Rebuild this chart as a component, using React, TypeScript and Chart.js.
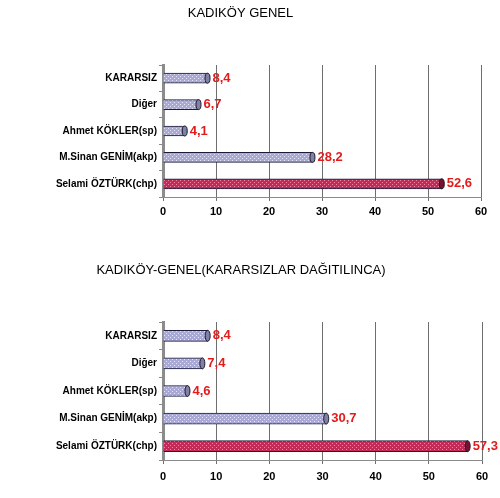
import { useEffect, useRef } from "react";
import { Chart, registerables } from "chart.js";

Chart.register(...registerables);

// Data
const categories = ["KARARSIZ", "Diğer", "Ahmet KÖKLER(sp)", "M.Sinan GENİM(akp)", "Selami ÖZTÜRK(chp)"];
const generalValues = [8.4, 6.7, 4.1, 28.2, 52.6];
const redistributedValues = [8.4, 7.4, 4.6, 30.7, 57.3];
const xTicks = [0, 10, 20, 30, 40, 50, 60];

const FONT = "'Liberation Sans', Arial, sans-serif";

function makePattern(base: string, dot: string) {
  const c = document.createElement("canvas");
  c.width = 4;
  c.height = 4;
  const g = c.getContext("2d")!;
  g.fillStyle = base;
  g.fillRect(0, 0, 4, 4);
  g.fillStyle = dot;
  g.fillRect(0, 0, 1, 1);
  g.fillRect(2, 2, 1, 1);
  return g.createPattern(c, "repeat")!;
}

// red value labels plus a small "cylinder cap" at each bar end
const valueLabels = {
  id: "valueLabels",
  afterDatasetsDraw(chart: any) {
    const ctx = chart.ctx;
    const meta = chart.getDatasetMeta(0);
    const data = chart.data.datasets[0].data as number[];
    const n = data.length;
    ctx.save();
    meta.data.forEach((bar: any, i: number) => {
      const h = bar.height;
      ctx.beginPath();
      ctx.ellipse(bar.x, bar.y, 2.5, h / 2, 0, 0, Math.PI * 2);
      ctx.fillStyle = i === n - 1 ? "#7a1030" : "#8080a8";
      ctx.fill();
      ctx.strokeStyle = "#1a1a2a";
      ctx.lineWidth = 1;
      ctx.stroke();
    });
    ctx.font = `bold 13px ${FONT}`;
    ctx.fillStyle = "#e31b1b";
    ctx.textBaseline = "middle";
    meta.data.forEach((bar: any, i: number) => {
      ctx.fillText(data[i].toFixed(1).replace(".", ","), bar.x + 5, bar.y);
    });
    ctx.restore();
  },
};

interface BarPanelProps {
  title: string;
  values: number[];
  height: number;
  titleTop: number;
  plotTop: number;
  plotBottom: number;
  rightPad: number;
  barThickness: number;
  tickPad: number;
}

function BarPanel({ title, values, height, titleTop, plotTop, plotBottom, rightPad, barThickness, tickPad }: BarPanelProps) {
  const canvasRef = useRef<HTMLCanvasElement>(null);

  useEffect(() => {
    if (!canvasRef.current) return;
    const blue = makePattern("#a9a9d4", "#e4e4f6");
    const red = makePattern("#c22a58", "#ec8aa6");
    const colors = values.map((_, i) => (i === values.length - 1 ? red : blue));

    const chart = new Chart(canvasRef.current, {
      type: "bar",
      data: {
        labels: categories,
        datasets: [
          {
            data: values,
            backgroundColor: colors as any,
            borderColor: "#1a1a3a",
            borderWidth: 1,
            barThickness,
          },
        ],
      },
      options: {
        indexAxis: "y",
        responsive: true,
        maintainAspectRatio: false,
        animation: false,
        layout: { padding: { left: 0, right: rightPad, top: 0, bottom: 0 } },
        scales: {
          x: {
            min: 0,
            max: 60,
            afterBuildTicks: (scale: any) => {
              scale.ticks = xTicks.map((v) => ({ value: v }));
            },
            afterFit: (scale: any) => {
              scale.height = height - plotBottom;
            },
            grid: { color: "#6e6e6e", tickLength: 4 },
            border: { color: "#8a8a8a" },
            ticks: {
              color: "#000",
              padding: tickPad,
              font: { family: FONT, size: 11, weight: "bold" },
            },
          },
          y: {
            afterFit: (scale: any) => {
              scale.width = 163;
            },
            grid: { display: true, drawOnChartArea: false, offset: true, tickLength: 4, color: "#8a8a8a" },
            border: { color: "#8c8c8c", width: 3 },
            ticks: {
              color: "#000",
              padding: 2,
              font: { family: FONT, size: 10, weight: "bold" },
            },
          },
        },
        plugins: {
          legend: { display: false },
          tooltip: { enabled: false },
          title: {
            display: true,
            text: title,
            color: "#000",
            font: { family: FONT, size: 13, weight: "normal", lineHeight: 1.2 },
            padding: { top: titleTop, bottom: plotTop - titleTop - 15.6 },
          },
        },
      },
      plugins: [valueLabels],
    });

    return () => {
      chart.destroy();
    };
  }, []);

  return (
    <div style={{ position: "relative", width: 500, height }}>
      <canvas ref={canvasRef}></canvas>
    </div>
  );
}

export default function App() {
  return (
    <div style={{ position: "absolute", left: 0, top: 0, width: 500, height: 498, background: "#fff" }}>
      <div style={{ position: "absolute", left: 0, top: 0 }}>
        <BarPanel
          title="KADIKÖY GENEL"
          values={generalValues}
          height={225}
          titleTop={6}
          plotTop={65}
          plotBottom={197}
          rightPad={19}
          barThickness={10}
          tickPad={4}
        />
      </div>
      <div style={{ position: "absolute", left: 0, top: 255 }}>
        <BarPanel
          title="KADIKÖY-GENEL(KARARSIZLAR DAĞITILINCA)"
          values={redistributedValues}
          height={243}
          titleTop={8}
          plotTop={67}
          plotBottom={205}
          rightPad={18}
          barThickness={11}
          tickPad={6}
        />
      </div>
    </div>
  );
}
